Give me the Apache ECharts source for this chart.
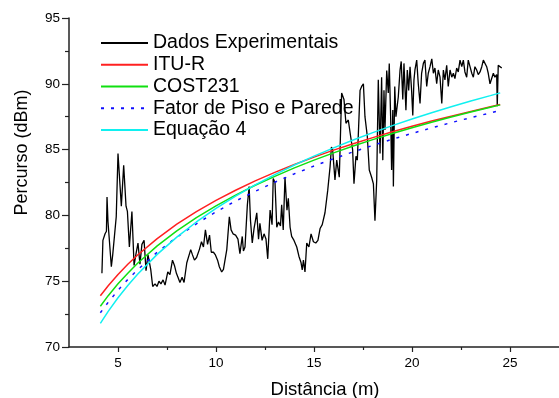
<!DOCTYPE html>
<html>
<head>
<meta charset="utf-8">
<script src="https://cdn.jsdelivr.net/npm/echarts@6.0.0/dist/echarts.min.js"></script>
<style>html,body{margin:0;padding:0;background:#fff}#chart{width:559px;height:398px}</style>
</head>
<body>
<div id="chart"></div>
<script>
// medição (distância em m, perda em dBm)
var expDist = [4.18,4.23,4.34,4.41,4.44,4.49,4.59,4.66,4.73,4.80,4.91,5.00,5.17,5.29,5.41,5.48,5.58,5.71,5.82,5.92,
  6.02,6.12,6.22,6.33,6.43,6.53,6.67,6.77,6.89,6.99,7.09,7.19,7.30,7.40,7.54,7.65,7.78,7.88,7.98,8.06,
  8.16,8.27,8.37,8.51,8.60,8.71,8.80,8.90,9.01,9.15,9.26,9.36,9.46,9.57,9.67,9.76,9.87,9.97,10.08,10.17,
  10.29,10.38,10.55,10.68,10.77,10.87,11.00,11.12,11.22,11.34,11.40,11.48,11.60,11.69,11.76,11.85,11.94,12.08,12.17,12.24,
  12.35,12.45,12.55,12.64,12.76,12.86,12.92,13.01,13.10,13.19,13.29,13.35,13.43,13.52,13.62,13.69,13.78,13.86,13.98,14.12,
  14.23,14.34,14.40,14.46,14.54,14.63,14.74,14.85,14.97,15.09,15.20,15.31,15.42,15.56,15.70,15.82,15.89,15.95,16.07,16.16,
  16.29,16.41,16.53,16.63,16.75,16.84,16.97,17.04,17.14,17.21,17.35,17.43,17.52,17.60,17.72,17.82,17.94,18.03,18.11,18.20,
  18.28,18.37,18.45,18.51,18.57,18.62,18.71,18.79,18.84,18.91,18.96,19.02,19.05,19.12,19.18,19.30,19.39,19.45,19.53,19.59,
  19.69,19.76,19.83,19.90,19.98,20.04,20.10,20.15,20.24,20.32,20.41,20.49,20.58,20.66,20.75,20.83,20.92,21.01,21.09,21.17,
  21.26,21.34,21.43,21.52,21.60,21.68,21.77,21.85,21.94,22.03,22.11,22.19,22.28,22.36,22.45,22.54,22.62,22.70,22.79,22.87,
  22.96,23.05,23.13,23.21,23.30,23.38,23.47,23.56,23.64,23.72,23.81,23.89,23.98,24.07,24.15,24.23,24.32,24.35,24.40,24.49,24.58];
var expLoss = [75.6,78.1,78.6,78.8,81.4,79.5,79.4,76.1,77.0,76.9,79.9,84.7,80.7,83.8,80.7,80.3,77.6,80.3,76.2,77.1,
  77.9,76.3,77.8,78.1,75.8,77.0,75.9,74.6,74.8,74.6,75.0,74.8,75.1,74.7,75.7,75.5,76.6,76.2,75.6,75.3,
  74.9,75.3,74.9,76.4,76.3,77.4,77.0,76.6,76.8,77.4,78.0,77.6,78.9,77.8,78.5,77.2,77.2,77.0,76.6,76.1,
  75.7,75.9,77.4,79.9,78.9,78.6,78.5,78.2,77.1,78.4,77.3,77.6,80.8,82.2,79.6,77.9,79.0,80.2,78.2,79.4,
  78.1,78.6,78.2,76.7,80.4,79.3,82.8,82.5,79.1,79.5,79.2,80.8,78.9,82.9,80.4,81.3,79.1,78.4,78.1,77.6,
  76.9,76.4,75.85,76.6,75.7,77.9,77.6,78.6,78.0,77.9,78.1,79.0,79.3,80.2,81.9,83.7,85.2,85.0,82.7,84.2,
  82.9,89.3,88.8,87.0,87.25,86.3,85.0,82.4,84.5,84.2,89.5,89.8,90.0,87.5,86.0,83.45,82.9,82.4,79.6,82.7,
  90.3,84.7,90.5,84.2,89.5,86.5,91.0,89.3,91.55,87.5,83.45,88.0,82.2,89.8,87.5,89.0,91.05,91.7,88.8,91.55,
  88.0,91.05,89.5,91.3,89.5,87.6,90.3,91.05,91.8,90.0,88.5,90.8,91.55,91.8,89.8,90.8,91.3,91.9,90.8,91.2,
  90.0,91.05,90.5,88.5,91.05,90.3,91.4,89.8,91.05,90.5,90.8,90.4,91.2,90.9,91.8,91.3,91.8,90.9,90.5,91.8,
  91.3,90.8,90.5,91.3,91.05,90.7,90.9,91.3,91.8,91.9,91.3,90.8,90.0,89.9,90.8,90.5,90.7,88.3,91.4,91.3,91.2];

// modelos
var modelDist = [4.1,4.5,5,5.5,6,7,8,9,10,11,12,13,14,15,16,17,18,19,20,21,22,23,24,24.5];
var ituR     = [73.9,74.66,75.51,76.29,76.99,78.24,79.33,80.28,81.14,81.91,82.62,83.27,83.87,84.43,84.96,85.45,85.91,86.35,86.77,87.17,87.54,87.90,88.25,88.42];
var cost231  = [73.1,73.90,74.80,75.61,76.36,77.68,78.82,79.83,80.73,81.54,82.29,82.97,83.61,84.20,84.75,85.27,85.76,86.22,86.66,87.08,87.47,87.85,88.22,88.40];
var fatorPP  = [72.6,73.40,74.31,75.13,75.87,77.20,78.35,79.36,80.27,81.09,81.83,82.52,83.16,83.75,84.31,84.83,85.32,85.79,86.23,86.65,87.05,87.43,87.79,87.97];
var equacao4 = [71.8,72.71,73.74,74.68,75.53,77.04,78.35,79.50,80.53,81.46,82.32,83.10,83.83,84.50,85.13,85.73,86.29,86.82,87.32,87.80,88.25,88.69,89.10,89.31];

var majorX = [5, 10, 15, 20, 25];
var minorX = [7.5, 12.5, 17.5, 22.5];

function pairs(xs, ys) { return xs.map(function(x, i) { return [x, ys[i]] }) }

var font = "'Liberation Sans', Arial, sans-serif";
var axisCol = '#222';

var chart = echarts.init(document.getElementById('chart'), null, {renderer: 'canvas'});
chart.setOption({
  animation: false,
  backgroundColor: '#fff',
  textStyle: {fontFamily: font},
  grid: {left: 69, right: 0, top: 18, bottom: 51, containLabel: false, outerBoundsMode: 'none'},
  legend: {
    orient: 'vertical', left: 100, top: 32, z: 1, padding: 0,
    itemWidth: 47, itemHeight: 10, itemGap: 0,
    itemStyle: {opacity: 0},
    textStyle: {fontFamily: font, fontSize: 19.5, color: '#000', lineHeight: 21.8},
    data: ['Dados Experimentais', 'ITU-R', 'COST231', 'Fator de Piso e Parede', 'Equação 4']
  },
  xAxis: [{
    type: 'value', min: 2.5, max: 27.5, position: 'bottom',
    name: 'Distância (m)', nameLocation: 'middle', nameGap: 33,
    nameTextStyle: {fontFamily: font, fontSize: 18.5, color: '#000', padding: [0, 0, 0, 22]},
    axisLine: {lineStyle: {color: axisCol, width: 1.5}},
    axisTick: {show: true, length: 5, customValues: majorX, lineStyle: {color: axisCol, width: 1.2}},
    axisLabel: {customValues: majorX, margin: 9, fontFamily: font, fontSize: 13.5, color: '#000'},
    splitLine: {show: false}
  }, {
    type: 'value', min: 2.5, max: 27.5, position: 'bottom',
    axisLine: {show: false},
    axisTick: {show: true, length: 3, customValues: minorX, lineStyle: {color: axisCol, width: 1.2}},
    axisLabel: {show: false},
    splitLine: {show: false}
  }],
  yAxis: {
    type: 'value', min: 70, max: 95, interval: 5,
    name: 'Percurso (dBm)', nameLocation: 'middle', nameGap: 38, nameRotate: 90,
    nameTextStyle: {fontFamily: font, fontSize: 18, color: '#000', padding: [0, 0, 0, 60]},
    axisLine: {show: true, lineStyle: {color: axisCol, width: 1.5}},
    axisTick: {show: true, length: 7, lineStyle: {color: axisCol, width: 1.2}},
    minorTick: {show: true, splitNumber: 2, length: 4, lineStyle: {color: axisCol, width: 1.2}},
    axisLabel: {margin: 9, fontFamily: font, fontSize: 13.5, color: '#000'},
    splitLine: {show: false}
  },
  series: [
    {name: 'Dados Experimentais', type: 'line', symbol: 'none', data: pairs(expDist, expLoss),
      lineStyle: {color: '#000', width: 1.3}, itemStyle: {color: '#000'}},
    {name: 'ITU-R', type: 'line', symbol: 'none', data: pairs(modelDist, ituR),
      lineStyle: {color: '#ff2020', width: 1.5}, itemStyle: {color: '#ff2020'}},
    {name: 'COST231', type: 'line', symbol: 'none', data: pairs(modelDist, cost231),
      lineStyle: {color: '#10e010', width: 1.5}, itemStyle: {color: '#10e010'}},
    {name: 'Fator de Piso e Parede', type: 'line', symbol: 'none', data: pairs(modelDist, fatorPP),
      lineStyle: {color: '#1010ff', width: 1.5, type: [3, 7]}, itemStyle: {color: '#1010ff'}},
    {name: 'Equação 4', type: 'line', symbol: 'none', data: pairs(modelDist, equacao4),
      lineStyle: {color: '#10f0f0', width: 1.5}, itemStyle: {color: '#10f0f0'}}
  ]
});
</script>
</body>
</html>
